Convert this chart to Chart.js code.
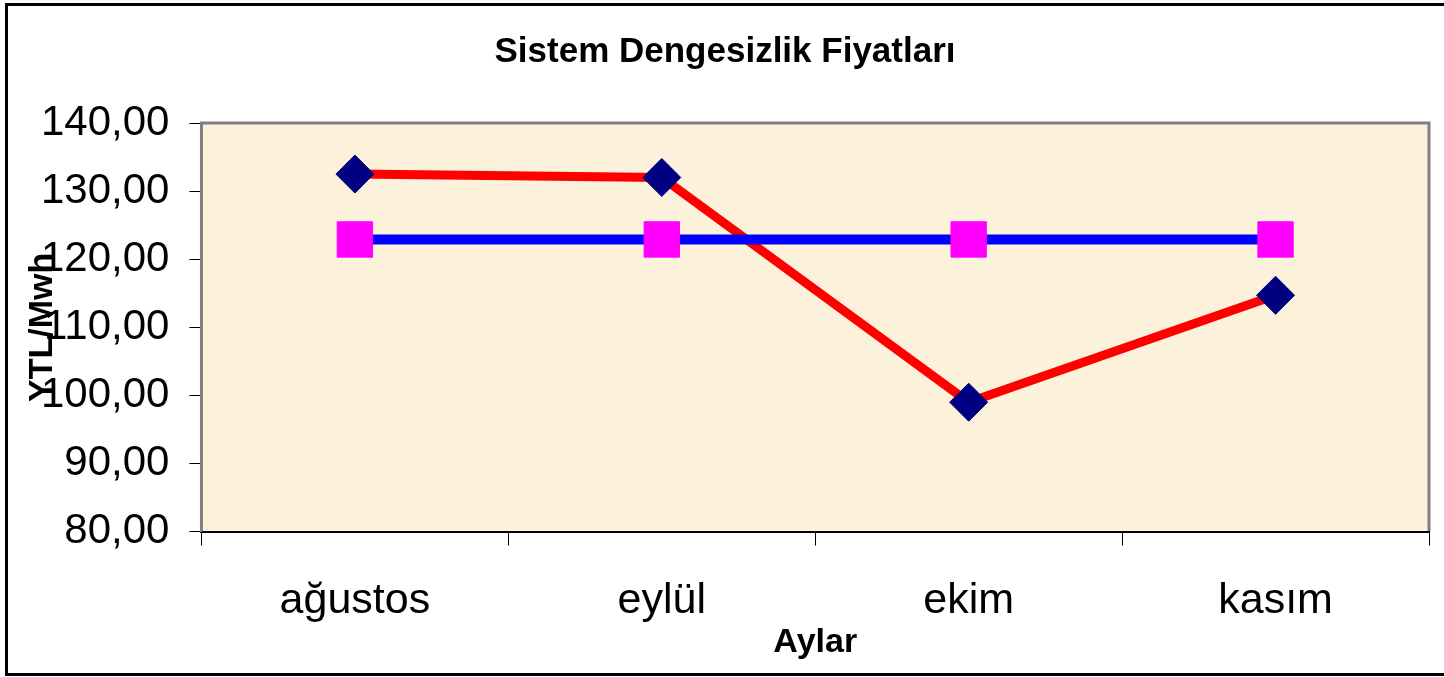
<!DOCTYPE html>
<html>
<head>
<meta charset="utf-8">
<script src="https://cdn.jsdelivr.net/npm/chart.js@4/dist/chart.umd.min.js"></script>
<style>
  html, body { margin: 0; padding: 0; background: #ffffff; }
  #wrap { width: 1444px; height: 677px; }
</style>
</head>
<body>
<div id="wrap"><canvas id="chart" width="1444" height="677"></canvas></div>
<script>
const months = ['ağustos', 'eylül', 'ekim', 'kasım'];
const dengesizlik = [132.5, 132.0, 99.0, 114.7];
const ortalama = [122.9, 122.9, 122.9, 122.9];
const yTicks = [80, 90, 100, 110, 120, 130, 140];

// plot background, plot frame and the outer frame
const framePlugin = {
    id: 'frame',
    beforeDraw(chart) {
        const ctx = chart.ctx;
        const a = chart.chartArea;
        ctx.save();
        ctx.fillStyle = '#fcf2dc';
        ctx.fillRect(a.left, a.top, a.right - a.left, a.bottom - a.top);
        ctx.strokeStyle = '#808080';
        ctx.lineWidth = 3;
        ctx.beginPath();
        ctx.moveTo(a.left, a.bottom);
        ctx.lineTo(a.left, a.top);
        ctx.lineTo(a.right, a.top);
        ctx.lineTo(a.right, a.bottom);
        ctx.stroke();
        ctx.strokeStyle = '#000000';
        ctx.lineWidth = 3;
        ctx.strokeRect(6.5, 4.5, 1444, 670);
        ctx.restore();
    }
};

new Chart(document.getElementById('chart'), {
    type: 'line',
    data: {
        labels: months,
        datasets: [{
            label: 'Sistem Dengesizlik Fiyatı',
            data: dengesizlik,
            borderColor: '#ff0000',
            borderWidth: 9,
            pointStyle: 'rectRot',
            pointRadius: 19,
            pointBackgroundColor: '#000080',
            pointBorderColor: '#000080',
            pointBorderWidth: 1,
            order: 1
        }, {
            label: 'Ortalama',
            data: ortalama,
            borderColor: '#0000ff',
            borderWidth: 10,
            pointStyle: 'rect',
            pointRadius: 25,
            pointBackgroundColor: '#ff00ff',
            pointBorderColor: '#ff00ff',
            pointBorderWidth: 1,
            order: 0
        }]
    },
    options: {
        responsive: false,
        animation: false,
        layout: { autoPadding: false, padding: { left: 21, right: 15, top: 5, bottom: 14 } },
        plugins: {
            legend: { display: false },
            tooltip: { enabled: false },
            title: {
                display: true,
                text: 'Sistem Dengesizlik Fiyatları',
                color: '#000000',
                font: { family: 'Liberation Sans, Arial', size: 35, weight: 'bold' },
                padding: { top: 26, bottom: 50 }
            }
        },
        scales: {
            x: {
                offset: true,
                grid: { offset: true, drawOnChartArea: false, drawTicks: true, tickLength: 14, color: '#000000', lineWidth: 1 },
                border: { display: true, color: '#000000', width: 2 },
                ticks: {
                    color: '#000000',
                    padding: 30,
                    font: { family: 'Liberation Sans, Arial', size: 43 }
                },
                title: {
                    display: true,
                    text: 'Aylar',
                    color: '#000000',
                    font: { family: 'Liberation Sans, Arial', size: 34, weight: 'bold' },
                    padding: { top: -35, bottom: 0 }
                }
            },
            y: {
                min: 80,
                max: 140,
                afterBuildTicks(scale) {
                    scale.ticks = yTicks.map(v => ({ value: v }));
                },
                grid: { drawOnChartArea: false, drawTicks: true, tickLength: 12, color: '#000000', lineWidth: 1 },
                border: { display: true, color: '#808080', width: 2 },
                ticks: {
                    color: '#000000',
                    padding: 20,
                    font: { family: 'Liberation Sans, Arial', size: 42 },
                    callback: v => v.toFixed(2).replace('.', ',')
                },
                title: {
                    display: true,
                    text: 'YTL/Mwh',
                    color: '#000000',
                    font: { family: 'Liberation Sans, Arial', size: 34, weight: 'bold' },
                    padding: { top: 1, bottom: -41.8 }
                }
            }
        }
    },
    plugins: [framePlugin]
});
</script>
</body>
</html>
